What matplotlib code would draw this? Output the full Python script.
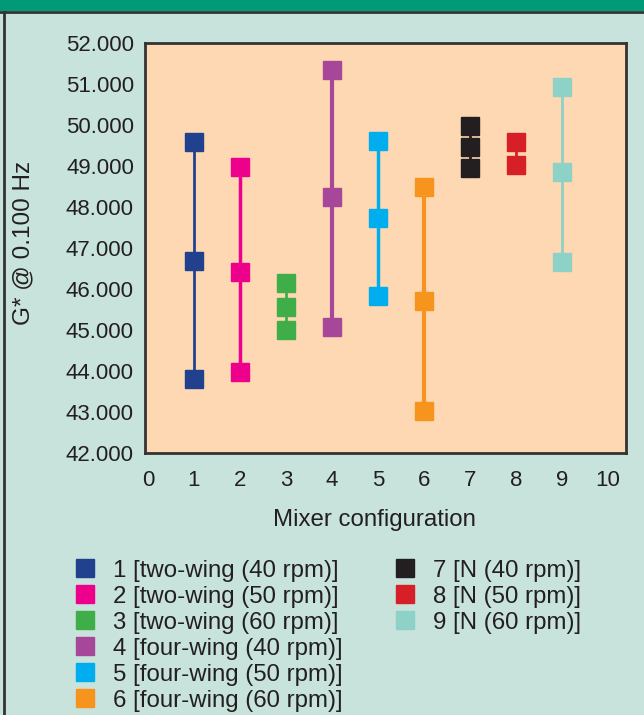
import matplotlib.pyplot as plt
from matplotlib.lines import Line2D
from matplotlib.patches import Rectangle

plt.rcParams['font.family'] = ['Liberation Sans', 'DejaVu Sans']

# mixer configurations and the three measured G* values for each
configs = [1, 2, 3, 4, 5, 6, 7, 8, 9]
g_values = [
    [49.59, 46.68, 43.80],
    [48.98, 46.41, 43.97],
    [46.14, 45.57, 45.00],
    [51.34, 48.24, 45.08],
    [49.60, 47.73, 45.84],
    [48.49, 45.71, 43.03],
    [49.98, 49.46, 48.94],
    [49.59, 49.02],
    [50.93, 48.85, 46.65],
]
labels = [
    "1 [two-wing (40 rpm)]",
    "2 [two-wing (50 rpm)]",
    "3 [two-wing (60 rpm)]",
    "4 [four-wing (40 rpm)]",
    "5 [four-wing (50 rpm)]",
    "6 [four-wing (60 rpm)]",
    "7 [N (40 rpm)]",
    "8 [N (50 rpm)]",
    "9 [N (60 rpm)]",
]
colors = ["#21418F", "#EC008C", "#3FAE49", "#A6479A", "#00AEEF",
          "#F7941D", "#231F20", "#D71F27", "#8ED1C6"]
line_widths = [2, 2.5, 2, 3, 2.5, 3, 2, 2, 2]

x_ticks = list(range(0, 11))
y_ticks = [42, 43, 44, 45, 46, 47, 48, 49, 50, 51, 52]

text_color = "#231F20"
W, H = 644, 715

fig = plt.figure(figsize=(W / 100, H / 100), dpi=100)
fig.patch.set_facecolor("#C7E3DB")

# header band and frame
fig.patches.append(Rectangle((0, 1 - 11 / H), 1, 11 / H, transform=fig.transFigure,
                             facecolor="#009A77", edgecolor="none"))
fig.add_artist(Line2D([0, 1], [1 - 12 / H, 1 - 12 / H], transform=fig.transFigure,
                      color="#333333", lw=2))
fig.add_artist(Line2D([4 / W, 4 / W], [0, 1 - 12 / H], transform=fig.transFigure,
                      color="#333333", lw=2))

ax = fig.add_axes([145 / W, 1 - 453 / H, 481 / W, 410 / H])
ax.set_facecolor("#FED8B2")

for x, vals, c, lw in zip(configs, g_values, colors, line_widths):
    ax.plot([x, x], [min(vals), max(vals)], color=c, lw=lw, zorder=2)
    ax.plot([x] * len(vals), vals, ls="none", marker="s", markersize=12.5,
            color=c, markeredgecolor=c, zorder=3)

ax.set_xlim(-0.065, 10.4)
ax.set_ylim(42, 52)
ax.set_xticks(x_ticks)
ax.set_yticks(y_ticks)
ax.set_yticklabels([f"{v:.3f}" for v in y_ticks])
ax.tick_params(length=0, labelsize=16, colors=text_color)
ax.tick_params(axis="y", pad=8)
ax.tick_params(axis="x", pad=12)
for s in ax.spines.values():
    s.set_linewidth(2)
    s.set_color("#333333")

fig.text(374 / W, 1 - 520 / H, "Mixer configuration", fontsize=17.3, color=text_color,
         ha="center", va="center")
fig.text(23 / W, 1 - 243 / H, "G* @ 0.100 Hz", fontsize=17.5, color=text_color,
         ha="center", va="center", rotation=90)

# legend, two columns (6 + 3 rows)
row_top, row_step = 568, 26
columns = [(85, 113, range(0, 6)), (405, 433, range(6, 9))]
for mx, tx, idx in columns:
    for row, i in enumerate(idx):
        y = 1 - (row_top + row * row_step) / H
        fig.add_artist(Line2D([mx / W], [y], transform=fig.transFigure, ls="none",
                              marker="s", markersize=12.5, color=colors[i]))
        fig.text(tx / W, y, labels[i], fontsize=17.3, color=text_color,
                 ha="left", va="center_baseline")

fig.savefig("out.png", dpi=100, facecolor=fig.get_facecolor())
